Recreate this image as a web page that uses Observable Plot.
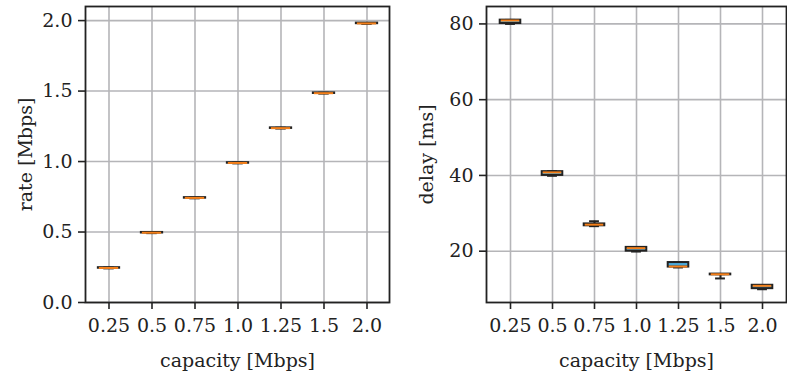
<!DOCTYPE html>
<html>
<head>
<meta charset="utf-8">
<script src="https://cdn.jsdelivr.net/npm/d3@7"></script>
<script src="https://cdn.jsdelivr.net/npm/@observablehq/plot@0.6"></script>
<style>
  html, body { margin: 0; padding: 0; background: #fff; }
  #chart { display: flex; width: 787px; height: 374px; }
  #chart svg, #chart svg text { font-family: "DejaVu Serif", serif !important; }
</style>
</head>
<body>
<div id="chart"></div>
<script>
// Categories (link capacity, Mbps)
const capacities = ["0.25", "0.5", "0.75", "1.0", "1.25", "1.5", "2.0"];

// Left panel: measured rate [Mbps] box statistics
const rateLo  = [0.242, 0.492, 0.739, 0.987, 1.234, 1.482, 1.977];
const rateQ1  = [0.243, 0.493, 0.740, 0.988, 1.235, 1.483, 1.978];
const rateMed = [0.245, 0.495, 0.742, 0.990, 1.237, 1.485, 1.980];
const rateQ3  = [0.247, 0.497, 0.744, 0.992, 1.239, 1.487, 1.982];
const rateHi  = [0.248, 0.498, 0.745, 0.993, 1.240, 1.488, 1.983];

// Right panel: delay [ms] box statistics
const delayLo  = [80.0, 39.9, 26.6, 19.9, 15.7, 12.8, 9.95];
const delayQ1  = [80.1, 40.0, 26.7, 20.0, 15.8, 13.75, 10.1];
const delayMed = [80.9, 40.8, 27.0, 20.8, 15.95, 13.9, 10.85];
const delayQ3  = [81.0, 41.0, 27.2, 21.0, 17.0, 13.95, 11.0];
const delayHi  = [81.05, 41.1, 27.9, 21.05, 17.05, 13.95, 11.05];

// Tick values
const rateTicks = [0, 0.5, 1.0, 1.5, 2.0];
const delayTicks = [20, 40, 60, 80];

const rateRows = capacities.map((c, i) => ({c, lo: rateLo[i], q1: rateQ1[i], med: rateMed[i], q3: rateQ3[i], hi: rateHi[i]}));
const delayRows = capacities.map((c, i) => ({c, lo: delayLo[i], q1: delayQ1[i], med: delayMed[i], q3: delayQ3[i], hi: delayHi[i]}));

const INK = "#222222";
const GRID = "#b5b5b8";
const BOX = "#4aa9da";
const MEDIAN = "#f5801a";
const FONT = "DejaVu Serif";
const FS = 19;

function panel({rows, yDomain, yTicks, yFormat, ylabel, width, marginLeft, marginRight}) {
  const step = (width - marginLeft - marginRight) / capacities.length;
  const boxInset = step * 0.25;
  const capInset = step * 0.375;
  return Plot.plot({
    width, height: 374,
    marginLeft, marginRight, marginTop: 6, marginBottom: 72,
    style: {fontFamily: FONT, fontSize: FS + "px", background: "white", color: INK},
    x: {type: "band", domain: capacities, padding: 0, axis: null},
    y: {domain: yDomain, axis: null},
    marks: [
      Plot.gridY(yTicks, {stroke: GRID, strokeOpacity: 1, strokeWidth: 1.6}),
      Plot.gridX(capacities, {stroke: GRID, strokeOpacity: 1, strokeWidth: 1.6}),
      Plot.ruleX(rows, {x: "c", y1: "q3", y2: "hi", stroke: INK, strokeWidth: 2}),
      Plot.ruleX(rows, {x: "c", y1: "lo", y2: "q1", stroke: INK, strokeWidth: 2}),
      Plot.tickY(rows, {x: "c", y: "hi", stroke: INK, strokeWidth: 2, insetLeft: capInset, insetRight: capInset}),
      Plot.tickY(rows, {x: "c", y: "lo", stroke: INK, strokeWidth: 2, insetLeft: capInset, insetRight: capInset}),
      Plot.barY(rows, {x: "c", y1: "q1", y2: "q3", fill: BOX, stroke: INK, strokeWidth: 2, insetLeft: boxInset, insetRight: boxInset}),
      Plot.tickY(rows, {x: "c", y: "med", stroke: MEDIAN, strokeWidth: 2, insetLeft: boxInset + 1, insetRight: boxInset + 1}),
      Plot.frame({stroke: INK, strokeWidth: 1.8}),
      Plot.axisX({tickSize: 7, tickPadding: 9, stroke: INK, strokeWidth: 1.6, label: null, fill: INK, fontFamily: FONT, fontSize: FS}),
      Plot.axisY(yTicks, {tickSize: 7, tickPadding: 6, stroke: INK, strokeWidth: 1.6, tickFormat: yFormat, label: null, fill: INK, fontFamily: FONT, fontSize: FS}),
      Plot.text(["capacity [Mbps]"], {frameAnchor: "bottom", dy: 58, lineAnchor: "middle", textAnchor: "middle", fill: INK, fontFamily: FONT, fontSize: FS}),
      Plot.text([ylabel], {frameAnchor: "left", dx: -60, rotate: -90, lineAnchor: "middle", textAnchor: "middle", fill: INK, fontFamily: FONT, fontSize: FS})
    ]
  });
}

const chart = document.getElementById("chart");
chart.append(panel({
  rows: rateRows, yDomain: [0, 2.1], yTicks: rateTicks, yFormat: d => d.toFixed(1),
  ylabel: "rate [Mbps]", width: 400, marginLeft: 85, marginRight: 11
}));
chart.append(panel({
  rows: delayRows, yDomain: [6.45, 84.6], yTicks: delayTicks, yFormat: d => String(d),
  ylabel: "delay [ms]", width: 387, marginLeft: 86, marginRight: 1
}));
</script>
</body>
</html>
